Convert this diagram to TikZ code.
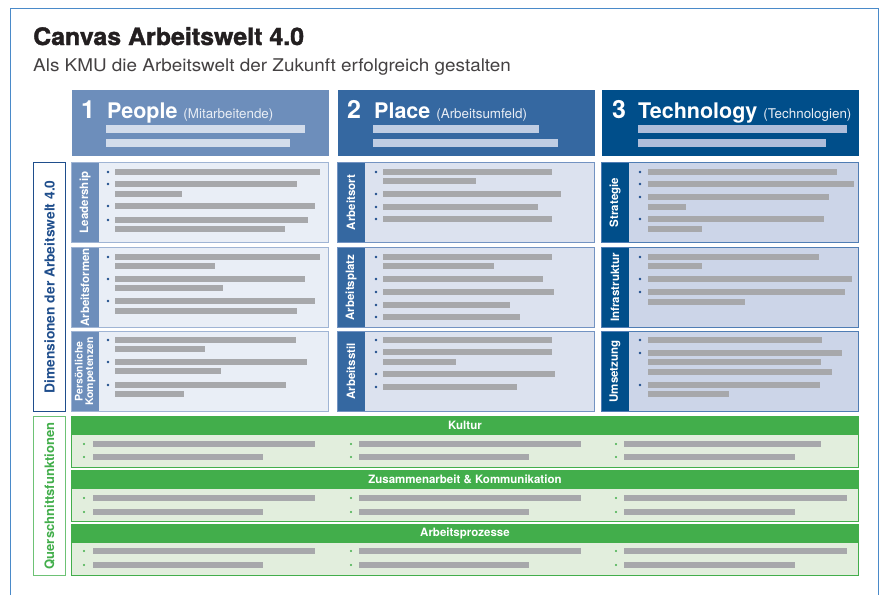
\documentclass[tikz,border=0pt]{standalone}
\usepackage{fontspec}
\setmainfont{TeX Gyre Heros}

\definecolor{rahmen}{HTML}{4A8AC9}
\definecolor{people}{HTML}{6D8EBB}
\definecolor{place}{HTML}{3568A1}
\definecolor{tech}{HTML}{004E8A}
\definecolor{peopleH}{HTML}{E9EEF6}
\definecolor{placeH}{HTML}{DCE2EF}
\definecolor{techH}{HTML}{CCD5E8}
\definecolor{peopleR}{HTML}{9FB4D4}
\definecolor{placeR}{HTML}{7393C2}
\definecolor{techR}{HTML}{4F7DB4}
\definecolor{peopleL}{HTML}{D2DCEB}
\definecolor{placeL}{HTML}{BFCDE3}
\definecolor{techL}{HTML}{AEBDDA}
\definecolor{grau}{HTML}{A7A8AB}
\definecolor{gruen}{HTML}{42AE4B}
\definecolor{gruenH}{HTML}{E2EEDD}
\definecolor{gruenR}{HTML}{6DC275}
\definecolor{dunkelblau}{HTML}{1F4E8C}
\definecolor{titelgrau}{HTML}{231F20}

\begin{document}
\begin{tikzpicture}[x=1pt, y=-1pt,
		kopf/.style={anchor=north west, minimum width=257pt, minimum height=66pt, inner sep=0pt, fill=#1},
		zelle/.style={anchor=north west, minimum width=257pt, minimum height=80pt, inner sep=0pt,
			draw=#1R, fill=#1H, line width=0.9pt,
			path picture={\fill[#1] (path picture bounding box.north west) rectangle ([xshift=28pt]path picture bounding box.south west);}},
		gruppe/.style={anchor=north west, minimum width=787pt, minimum height=51pt, inner sep=0pt,
			draw=gruen, fill=gruenH, line width=0.9pt,
			path picture={\fill[gruen] (path picture bounding box.north west) rectangle ([yshift=-19pt]path picture bounding box.north east);}},
		seite/.style={anchor=north west, minimum width=32pt, inner sep=0pt, fill=white, line width=1pt},
		dimtext/.style={rotate=90, text=white, align=center, font=\bfseries\fontsize{11.5}{11.5}\selectfont},
		gruentext/.style={text=white, font=\bfseries\fontsize{11.5}{11.5}\selectfont},
		balken/.style={fill=grau},
		punkt/.style={fill=dunkelblau},
		gpunkt/.style={fill=gruen}]
	
	\useasboundingbox (0,0) rectangle (882,595);
	
	% Rahmen
	\draw[rahmen, line width=1pt] (10,595) -- (10,8) -- (878,8) -- (878,595);
	
	% Titel
	\node[anchor=base west, inner sep=0pt, text=titelgrau, font=\bfseries\fontsize{24}{26}\selectfont\addfontfeatures{FakeBold=1.5}] (titel) at (33,45) {\scalebox{1.04}[1]{Canvas Arbeitswelt 4.0}};
	\node[anchor=base west, inner sep=0pt, text=titelgrau!85, font=\fontsize{17.5}{20}\selectfont] (untertitel) at (33,71) {\scalebox{1.08}[1]{Als KMU die Arbeitswelt der Zukunft erfolgreich gestalten}};
	
	% Kopfzeilen
	\node[kopf=people] (people) at (72,90) {};
	\node[kopf=place] (place) at (338,90) {};
	\node[kopf=tech] (tech) at (602,90) {};
	\foreach \x/\n/\t/\u/\s in {81/1/People/Mitarbeitende/107, 347/2/Place/Arbeitsumfeld/374, 612/3/Technology/Technologien/638} {
		\node[anchor=base west, inner sep=0pt, text=white, font=\bfseries\fontsize{25}{25}\selectfont] at (\x,118) {\n};
		\node[anchor=base west, inner sep=0pt, text=white, font=\bfseries\fontsize{21.5}{21.5}\selectfont] at (\s,118) {\t\ {\mdseries\fontsize{13.4}{13.4}\selectfont\color{white!85!people}(\u)}};
	}
	\foreach \a/\b/\c/\f in {106/305/290/peopleL, 373/539/558/placeL, 638/847/826/techL} {
		\fill[\f] (\a,125) rectangle (\b,132.5);
		\fill[\f] (\a,139) rectangle (\c,146.5);
	}
	
	% Seitenbeschriftung
	\node[seite, draw=dunkelblau, minimum height=249pt] (dimensionen) at (33,162) {};
	\node[rotate=90, text=dunkelblau, font=\bfseries\fontsize{13.8}{14}\selectfont] at (dimensionen.center) {Dimensionen der Arbeitswelt 4.0};
	\node[seite, draw=gruenR, minimum height=159pt] (querschnitt) at (33,416) {};
	\node[rotate=90, text=gruen, font=\bfseries\fontsize{13}{14}\selectfont] at (querschnitt.center) {Querschnittsfunktionen};
	
	% Zellen der drei Dimensionen
	\node[zelle=people] (leadership) at (71,162) {};
	\node[zelle=people] (arbeitsformen) at (71,247) {};
	\node[zelle=people] (kompetenzen) at (71,331) {};
	\node[zelle=place] (arbeitsort) at (337,162) {};
	\node[zelle=place] (arbeitsplatz) at (337,247) {};
	\node[zelle=place] (arbeitsstil) at (337,331) {};
	\node[zelle=tech] (strategie) at (601,162) {};
	\node[zelle=tech] (infrastruktur) at (601,247) {};
	\node[zelle=tech] (umsetzung) at (601,331) {};
	
	\node[dimtext] at ([xshift=14pt]leadership.west) {Leadership};
	\node[dimtext] at ([xshift=14pt]arbeitsformen.west) {Arbeitsformen};
	\node[dimtext, font=\bfseries\fontsize{10.5}{10.5}\selectfont] at ([xshift=14pt]kompetenzen.west) {Persönliche\\Kompetenzen};
	\node[dimtext] at ([xshift=14pt]arbeitsort.west) {Arbeitsort};
	\node[dimtext] at ([xshift=14pt]arbeitsplatz.west) {Arbeitsplatz};
	\node[dimtext] at ([xshift=14pt]arbeitsstil.west) {Arbeitsstil};
	\node[dimtext] at ([xshift=14pt]strategie.west) {Strategie};
	\node[dimtext] at ([xshift=14pt]infrastruktur.west) {Infrastruktur};
	\node[dimtext] at ([xshift=14pt]umsetzung.west) {Umsetzung};
	
	% Platzhalter People
	\foreach \y/\e/\p in {169/320/1, 181/297/1, 191/182/0, 203/315/1, 217/308/1, 226/285/0,
		254/320/1, 263/215/0, 276/305/1, 285/223/0, 298/315/1, 308/297/0,
		337/296/1, 346/205/0, 359/307/1, 368/221/0, 382/286/1, 391/184/0} {
		\fill[balken] (115,\y) rectangle (\e,\y+6);
		\ifnum\p=1 \fill[punkt] (108,\y+3) circle (1.3); \fi
	}
	
	% Platzhalter Place
	\foreach \y/\e/\p in {169/552/1, 178/476/0, 191/561/1, 204/538/1, 216/552/1,
		254/552/1, 263/494/0, 276/543/1, 289/554/1, 302/510/1, 314/520/1,
		337/552/1, 349/552/1, 359/456/0, 371/555/1, 384/517/1} {
		\fill[balken] (383,\y) rectangle (\e,\y+6);
		\ifnum\p=1 \fill[punkt] (376,\y+3) circle (1.3); \fi
	}
	
	% Platzhalter Technology
	\foreach \y/\e/\p in {169/837/1, 181/854/1, 194/829/1, 204/686/0, 216/824/1, 226/702/0,
		254/819/1, 263/702/0, 276/852/1, 289/845/1, 299/745/0,
		337/822/1, 350/842/1, 359/821/0, 369/832/0, 382/820/1, 391/729/0} {
		\fill[balken] (648,\y) rectangle (\e,\y+6);
		\ifnum\p=1 \fill[punkt] (640,\y+3) circle (1.3); \fi
	}
	
	% Querschnittsfunktionen
	\node[gruppe] (kultur) at (71,416) {};
	\node[gruppe] (zusammenarbeit) at (71,470) {};
	\node[gruppe] (prozesse) at (71,524) {};
	\node[gruentext] at ([yshift=-9.5pt]kultur.north) {Kultur};
	\node[gruentext] at ([yshift=-9.5pt]zusammenarbeit.north) {Zusammenarbeit \& Kommunikation};
	\node[gruentext] at ([yshift=-9.5pt]prozesse.north) {Arbeitsprozesse};
	
	\foreach \y/\a/\b/\c in {441/315/581/821, 454/263/529/795, 495/315/581/847, 509/263/529/795, 548/315/581/847, 562/263/529/795} {
		\fill[balken] (93,\y) rectangle (\a,\y+6);
		\fill[balken] (359,\y) rectangle (\b,\y+6);
		\fill[balken] (624,\y) rectangle (\c,\y+6);
		\foreach \x in {84,351,616} {
			\fill[gpunkt] (\x,\y+3) circle (1.2);
		}
	}
	
\end{tikzpicture}
\end{document}
